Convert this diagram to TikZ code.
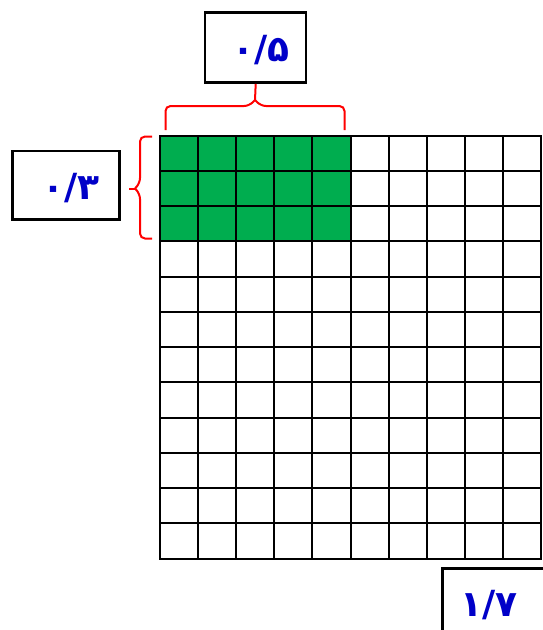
\documentclass[tikz,border=0pt]{standalone}
\usepackage{fontspec}
\newfontfamily\fafont[Script=Arabic]{DejaVu Sans}
\definecolor{cellgreen}{HTML}{00AD4F}
\definecolor{numblue}{HTML}{0000C8}
\begin{document}
\begin{tikzpicture}[x=1pt,y=-1pt,
  numfont/.style={font=\fafont\bfseries\fontsize{36}{40}\selectfont,text=numblue},
  valbox/.style={draw=black,line width=2.5pt,fill=white,inner sep=0pt,numfont},
  gridline/.style={draw=black,line width=2pt},
  bracered/.style={draw=red,line width=2pt,rounded corners=5pt}]
\useasboundingbox (0,0) rectangle (543,630);
\clip (0,0) rectangle (543,630);
% green cells
\fill[cellgreen] (160,135.5) rectangle (350.7,241);
% grid
\foreach \i in {0,...,10} {
  \draw[gridline] ({160+\i*38.1},135.5) -- ({160+\i*38.1},558.5);
}
\foreach \j in {0,...,12} {
  \draw[gridline] (159,{135.5+\j*35.25}) -- (542,{135.5+\j*35.25});
}
% boxes
\node[valbox,minimum width=101pt,minimum height=70pt] (top) at (255.7,47.7) {};
\node[numfont] (toplbl) at (261,50) {۰/۵};
\node[valbox,minimum width=106.6pt,minimum height=68.3pt] (left) at (66,185.2) {};
\node[numfont] (leftlbl) at (71,188) {۰/۳};
\node[valbox,minimum width=110pt,minimum height=75pt,anchor=north west] (bot) at (441,567) {};
\node[numfont] (botlbl) at (489,605) {۱/۷};
% top brace
\coordinate (tl) at (165.5,130);
\coordinate (tr) at (344.5,130);
\draw[bracered] (tl) -- (165.5,106) -- (249,106) -- (255,100);
\draw[red,line width=2pt] (255,100) -- (top.south);
\draw[bracered] (255,100) -- (261,106) -- (344.5,106) -- (tr);
% left brace
\coordinate (lt) at (152,136.5);
\coordinate (lb) at (152,238.5);
\draw[bracered] (lt) -- (140,136.5) -- (140,183) -- (135,188.5);
\draw[bracered] (lb) -- (140,238.5) -- (140,194) -- (135,188.5);
\draw[red,line width=2pt] (135,188.5) -- (128.5,188.5);
\end{tikzpicture}
\end{document}
